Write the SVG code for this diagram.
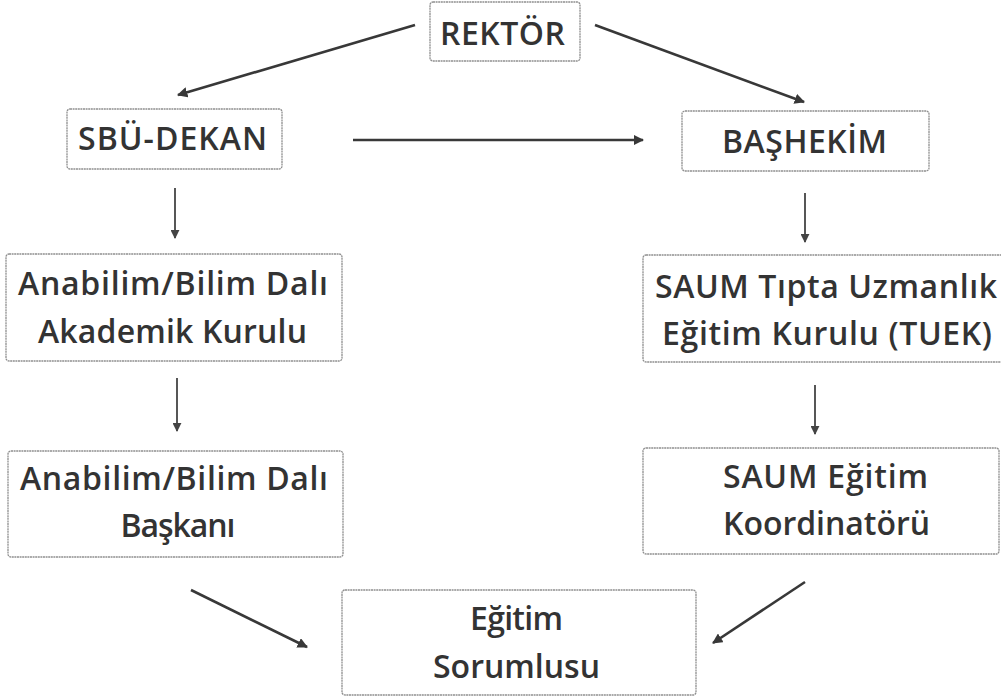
<svg xmlns="http://www.w3.org/2000/svg" width="1001" height="700" viewBox="0 0 1001 700">
<style>
.box{fill:#fff;stroke:#8f8f8f;stroke-width:1.3;stroke-dasharray:2 0.6}
.t{font-family:"Open Sans","Liberation Sans",sans-serif;font-size:32px;fill:#333;text-anchor:middle;font-weight:600}
.c{stroke:#383838;stroke-width:2.6;fill:none;marker-end:url(#ah)}
.d{stroke:#444;stroke-width:1.8;fill:none;marker-end:url(#ah2)}
</style>
<defs>
<marker id="ah" viewBox="0 0 10 10" refX="9" refY="5" markerWidth="4" markerHeight="4" orient="auto" markerUnits="strokeWidth">
<path d="M0,0 L10,5 L0,10 z" fill="#383838"/>
</marker>
<marker id="ah2" viewBox="0 0 10 10" refX="9" refY="5" markerWidth="5" markerHeight="5" orient="auto" markerUnits="strokeWidth">
<path d="M0,0 L10,5 L0,10 z" fill="#444"/>
</marker>
</defs>
<rect width="1001" height="700" fill="#fff"/>
<g id="connectors">
<line class="c" x1="415" y1="25" x2="178" y2="95"/>
<line class="c" x1="595" y1="25" x2="804" y2="102"/>
<line class="c" x1="353" y1="140" x2="643" y2="140"/>
<line class="d" x1="175" y1="188" x2="175" y2="238"/>
<line class="d" x1="177" y1="378" x2="177" y2="431"/>
<line class="d" x1="805" y1="193" x2="805" y2="242"/>
<line class="d" x1="815" y1="385" x2="815" y2="434"/>
<line class="c" x1="191" y1="590" x2="307" y2="647"/>
<line class="c" x1="805" y1="582" x2="713" y2="643"/>
</g>
<g id="rektor">
<rect class="box" x="430" y="2" width="150" height="59" rx="3"/>
<text class="t" x="502.5" y="45" textLength="125">REKTÖR</text>
</g>
<g id="sbu-dekan">
<rect class="box" x="67" y="109" width="215" height="60" rx="3"/>
<text class="t" x="172.5" y="150" textLength="189">SBÜ-DEKAN</text>
</g>
<g id="bashekim">
<rect class="box" x="682" y="111" width="247" height="60" rx="3"/>
<text class="t" x="804.5" y="153" textLength="165">BAŞHEKİM</text>
</g>
<g id="akademik-kurul">
<rect class="box" x="6" y="254" width="336" height="107" rx="3"/>
<text class="t" x="173" y="295" textLength="310">Anabilim/Bilim  Dalı</text>
<text class="t" x="172.5" y="343" textLength="269">Akademik Kurulu</text>
</g>
<g id="baskan">
<rect class="box" x="8" y="451" width="335" height="106" rx="3"/>
<text class="t" x="174" y="490" textLength="308">Anabilim/Bilim  Dalı</text>
<text class="t" x="178" y="537" textLength="115">Başkanı</text>
</g>
<g id="tuek">
<rect class="box" x="643" y="255" width="362" height="107" rx="3"/>
<text class="t" x="826" y="298" textLength="342">SAUM Tıpta Uzmanlık</text>
<text class="t" x="827" y="345" textLength="330">Eğitim Kurulu (TUEK)</text>
</g>
<g id="koordinator">
<rect class="box" x="643" y="448" width="356" height="106" rx="3"/>
<text class="t" x="825.5" y="488" textLength="205">SAUM Eğitim</text>
<text class="t" x="826.5" y="535" textLength="207">Koordinatörü</text>
</g>
<g id="egitim-sorumlusu">
<rect class="box" x="342" y="590" width="354" height="105" rx="3"/>
<text class="t" x="516.5" y="630" textLength="93">Eğitim</text>
<text class="t" x="516.5" y="678" textLength="167">Sorumlusu</text>
</g>
</svg>
